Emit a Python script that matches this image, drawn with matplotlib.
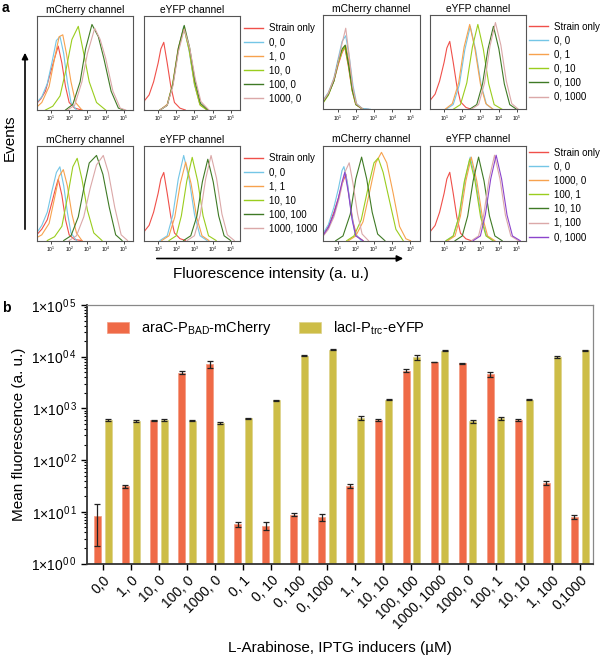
import numpy as np
import matplotlib
matplotlib.use("Agg")
import matplotlib.pyplot as plt
from matplotlib.lines import Line2D

plt.rcParams["font.family"] = ["Liberation Sans", "DejaVu Sans"]
plt.rcParams["mathtext.fontset"] = "custom"
plt.rcParams["mathtext.rm"] = "Liberation Sans"
plt.rcParams["mathtext.it"] = "Liberation Sans:italic"
plt.rcParams["mathtext.bf"] = "Liberation Sans:bold"

# ---- panel a: flow histograms, points are (log10 intensity, fraction of max) ----
C_STRAIN = "#F0504A"
C_00 = "#74C6E6"
C_OR = "#F7A24E"
C_LIME = "#9ACD1E"
C_DG = "#3F7A25"
C_PINK = "#DBA8A8"
C_PURP = "#8C44CC"

colors6 = [C_STRAIN, C_00, C_OR, C_LIME, C_DG, C_PINK]
colors7 = [C_STRAIN, C_00, C_OR, C_LIME, C_DG, C_PINK, C_PURP]

labels_tl = ["Strain only", "0, 0", "1, 0", "10, 0", "100, 0", "1000, 0"]
labels_tr = ["Strain only", "0, 0", "0, 1", "0, 10", "0, 100", "0, 1000"]
labels_bl = ["Strain only", "0, 0", "1, 1", "10, 10", "100, 100", "1000, 1000"]
labels_br = ["Strain only", "0, 0", "1000, 0", "100, 1", "10, 10", "1, 100", "0, 1000"]

strain_yfp = [(0.22, 0), (0.25, .1), (0.5, .16), (0.75, .3), (1.0, .5), (1.15, .65), (1.31, .72),
              (1.5, .5), (1.7, .25), (1.9, .08), (2.2, .02), (2.5, 0)]

tl_mch = [
    [(0.22, .07), (0.45, .12), (0.7, .2), (0.95, .38), (1.2, .55), (1.4, .68), (1.6, .5), (1.8, .25), (2.0, .08), (2.3, .02), (2.7, 0)],
    [(0.22, .08), (0.5, .14), (0.8, .28), (1.05, .5), (1.3, .74), (1.5, .78), (1.7, .6), (1.9, .3), (2.1, .08), (2.4, 0)],
    [(0.22, .03), (0.5, .08), (0.9, .25), (1.2, .55), (1.45, .78), (1.65, .8), (1.85, .6), (2.1, .3), (2.35, .08), (2.7, 0)],
    [(0.7, 0), (1.1, .04), (1.5, .15), (1.85, .45), (2.15, .75), (2.5, .89), (2.8, .6), (3.1, .3), (3.5, .08), (4.0, 0)],
    [(1.8, 0), (2.2, .06), (2.6, .3), (2.9, .65), (3.25, .91), (3.6, .78), (3.9, .55), (4.3, .2), (4.7, .02), (5.0, 0)],
    [(1.9, 0), (2.3, .05), (2.7, .3), (3.0, .6), (3.4, .87), (3.7, .75), (4.0, .55), (4.4, .2), (4.8, .02), (5.1, 0)],
]
tl_yfp = [
    strain_yfp,
    [(1.1, 0), (1.5, .05), (1.8, .27), (2.1, .64), (2.41, .89), (2.7, .64), (3.0, .27), (3.3, .06), (3.7, 0)],
    [(1.1, 0), (1.5, .06), (1.8, .28), (2.1, .65), (2.42, .88), (2.72, .64), (3.0, .28), (3.3, .06), (3.7, 0)],
    [(1.1, 0), (1.5, .05), (1.8, .27), (2.12, .64), (2.42, .88), (2.72, .63), (3.02, .27), (3.32, .05), (3.7, 0)],
    [(1.1, 0), (1.5, .05), (1.82, .28), (2.12, .66), (2.44, .9), (2.74, .66), (3.04, .3), (3.34, .07), (3.75, 0)],
    [(1.1, 0), (1.5, .05), (1.82, .26), (2.12, .62), (2.44, .86), (2.74, .66), (3.05, .33), (3.36, .09), (3.8, 0)],
]
tr_mch = [
    [(0.22, .08), (0.5, .16), (0.8, .3), (1.05, .48), (1.25, .6), (1.4, .66), (1.6, .45), (1.8, .2), (2.0, .05), (2.3, .01), (2.7, 0)],
    [(0.22, .1), (0.5, .18), (0.8, .33), (1.05, .55), (1.25, .72), (1.45, .78), (1.65, .55), (1.85, .25), (2.05, .06), (2.35, .01), (2.8, 0)],
    [(0.22, .09), (0.5, .17), (0.8, .32), (1.05, .5), (1.3, .64), (1.45, .68), (1.65, .48), (1.85, .2), (2.05, .05), (2.4, 0)],
    [(0.22, .07), (0.5, .15), (0.8, .3), (1.05, .5), (1.25, .62), (1.4, .66), (1.6, .47), (1.8, .2), (2.0, .05), (2.4, 0)],
    [(0.22, .08), (0.5, .16), (0.8, .3), (1.05, .52), (1.25, .64), (1.42, .68), (1.62, .46), (1.82, .2), (2.02, .05), (2.4, 0)],
    [(0.22, .09), (0.5, .17), (0.8, .32), (1.05, .52), (1.25, .7), (1.45, .86), (1.62, .6), (1.82, .25), (2.02, .06), (2.4, 0)],
]
tr_yfp = [
    strain_yfp,
    [(1.1, 0), (1.5, .05), (1.84, .26), (2.14, .63), (2.44, .88), (2.74, .63), (3.04, .26), (3.34, .05), (3.7, 0)],
    [(1.05, 0), (1.45, .06), (1.8, .28), (2.1, .66), (2.41, .9), (2.7, .64), (3.0, .27), (3.3, .06), (3.7, 0)],
    [(1.5, 0), (1.9, .05), (2.25, .28), (2.56, .66), (2.86, .9), (3.16, .64), (3.46, .27), (3.76, .05), (4.2, 0)],
    [(2.4, 0), (2.8, .05), (3.12, .27), (3.42, .64), (3.72, .88), (4.02, .64), (4.32, .27), (4.62, .05), (5.0, 0)],
    [(2.5, 0), (2.9, .05), (3.23, .28), (3.53, .67), (3.83, .92), (4.13, .68), (4.43, .3), (4.73, .06), (5.1, 0)],
]
bl_mch = [
    [(0.22, .06), (0.5, .12), (0.8, .22), (1.05, .4), (1.25, .55), (1.4, .65), (1.6, .48), (1.8, .22), (2.0, .06), (2.3, .01), (2.7, 0)],
    [(0.22, .08), (0.5, .16), (0.8, .3), (1.05, .52), (1.3, .72), (1.49, .78), (1.7, .58), (1.9, .3), (2.1, .08), (2.4, 0)],
    [(0.22, .03), (0.5, .06), (0.9, .18), (1.2, .45), (1.45, .68), (1.68, .75), (1.9, .58), (2.15, .28), (2.4, .08), (2.7, 0)],
    [(0.8, 0), (1.2, .04), (1.6, .15), (1.9, .45), (2.2, .78), (2.44, .87), (2.7, .65), (3.0, .32), (3.35, .08), (3.8, 0)],
    [(1.7, 0), (2.1, .05), (2.5, .25), (2.85, .6), (3.1, .82), (3.5, .9), (3.85, .7), (4.2, .35), (4.55, .06), (4.9, 0)],
    [(2.0, 0), (2.4, .05), (2.8, .25), (3.15, .55), (3.5, .8), (3.87, .9), (4.15, .72), (4.5, .35), (4.85, .06), (5.2, 0)],
]
bl_yfp = [
    strain_yfp,
    [(1.1, 0), (1.5, .05), (1.81, .27), (2.11, .65), (2.41, .9), (2.71, .65), (3.01, .27), (3.31, .05), (3.7, 0)],
    [(1.2, 0), (1.6, .05), (1.92, .25), (2.22, .6), (2.52, .83), (2.82, .6), (3.12, .25), (3.42, .05), (3.8, 0)],
    [(1.6, 0), (2.0, .05), (2.28, .26), (2.58, .63), (2.88, .88), (3.18, .63), (3.48, .26), (3.78, .05), (4.2, 0)],
    [(2.4, 0), (2.8, .05), (3.14, .26), (3.44, .62), (3.74, .86), (4.04, .62), (4.34, .26), (4.64, .05), (5.0, 0)],
    [(2.6, 0), (3.0, .05), (3.32, .27), (3.62, .65), (3.92, .9), (4.22, .66), (4.52, .28), (4.82, .06), (5.2, 0)],
]
br_mch = [
    [(0.22, .07), (0.5, .15), (0.8, .3), (1.05, .45), (1.25, .6), (1.46, .7), (1.65, .45), (1.85, .2), (2.05, .05), (2.4, 0)],
    [(0.22, .08), (0.5, .17), (0.8, .35), (1.05, .55), (1.25, .74), (1.35, .78), (1.55, .6), (1.75, .3), (1.95, .08), (2.3, 0)],
    [(1.6, 0), (2.0, .05), (2.4, .2), (2.8, .55), (3.1, .82), (3.41, .93), (3.7, .82), (4.05, .5), (4.4, .15), (4.75, .02), (5.0, 0)],
    [(1.5, 0), (1.9, .05), (2.3, .22), (2.7, .58), (3.0, .82), (3.23, .87), (3.5, .72), (3.85, .42), (4.2, .12), (4.6, 0)],
    [(0.9, 0), (1.3, .05), (1.7, .28), (2.0, .65), (2.32, .88), (2.6, .65), (2.9, .3), (3.2, .07), (3.6, 0)],
    [(0.22, .05), (0.5, .12), (0.8, .25), (1.1, .45), (1.4, .72), (1.64, .82), (1.85, .6), (2.1, .28), (2.35, .07), (2.7, 0)],
    [(0.22, .06), (0.5, .14), (0.8, .28), (1.05, .45), (1.25, .62), (1.4, .72), (1.6, .5), (1.8, .22), (2.0, .05), (2.4, 0)],
]
br_yfp = [
    strain_yfp,
    [(1.1, 0), (1.5, .05), (1.84, .26), (2.14, .63), (2.44, .88), (2.74, .63), (3.04, .26), (3.34, .05), (3.7, 0)],
    [(1.2, 0), (1.6, .05), (1.9, .26), (2.2, .63), (2.5, .88), (2.8, .63), (3.1, .26), (3.4, .05), (3.8, 0)],
    [(1.1, 0), (1.5, .05), (1.81, .25), (2.11, .62), (2.41, .86), (2.71, .62), (3.01, .25), (3.31, .05), (3.7, 0)],
    [(1.6, 0), (2.0, .05), (2.3, .26), (2.6, .63), (2.9, .88), (3.2, .63), (3.5, .26), (3.8, .05), (4.2, 0)],
    [(2.5, 0), (2.9, .05), (3.18, .27), (3.48, .65), (3.78, .9), (4.08, .65), (4.38, .27), (4.68, .05), (5.1, 0)],
    [(2.6, 0), (3.0, .05), (3.27, .27), (3.57, .65), (3.87, .9), (4.17, .65), (4.47, .27), (4.77, .05), (5.2, 0)],
]

# ---- panel b: mean fluorescence ----
conditions = ["0,0", "1, 0", "10, 0", "100, 0", "1000, 0", "0, 1", "0, 10", "0, 100", "0, 1000",
              "1, 1", "10, 10", "100, 100", "1000, 1000", "1000, 0", "100, 1", "10, 10", "1, 100", "0,1000"]
mcherry_mean = [8.2, 31.5, 590, 4900, 7200, 5.7, 5.4, 8.8, 7.9, 31.5, 590, 5350, 7900, 7400, 4600, 590, 36, 8.0]
mcherry_err = [6.0, 2.0, 15, 300, 1100, 0.7, 1.0, 0.6, 1.3, 3.0, 20, 400, 150, 200, 500, 20, 3, 0.8]
eyfp_mean = [590, 575, 590, 580, 525, 645, 1450, 10400, 13600, 655, 1480, 9700, 13000, 565, 645, 1480, 9800, 13400]
eyfp_err = [20, 30, 20, 20, 30, 15, 30, 200, 400, 50, 30, 1000, 300, 40, 50, 30, 300, 300]

W, H = 600, 663
fig = plt.figure(figsize=(W / 100, H / 100), dpi=100)


def px_axes(x0, y0, x1, y1):
    return fig.add_axes([x0 / W, 1 - y1 / H, (x1 - x0) / W, (y1 - y0) / H])


def draw_hist(ax, curves, colors, title):
    for pts, c in zip(curves, colors):
        xs = np.power(10.0, [p[0] for p in pts])
        ys = [p[1] for p in pts]
        ax.plot(xs, ys, color=c, lw=0.8)
    ax.set_xscale("log")
    ax.set_xlim(10 ** 0.22, 10 ** 5.5)
    ax.set_ylim(0, 1)
    ax.set_yticks([])
    ax.set_xticks([1e1, 1e2, 1e3, 1e4, 1e5])
    ax.set_xticklabels(["$10^{%d}$" % k for k in range(1, 6)], fontsize=3.5)
    ax.tick_params(axis="x", which="major", length=2, width=0.5, pad=1)
    ax.tick_params(axis="x", which="minor", length=1, width=0.4)
    for s in ax.spines.values():
        s.set_linewidth(0.8)
        s.set_color("#555555")
    ax.set_title(title, fontsize=7.4, pad=2.5)


def hist_legend(labels, colors, x_px, y_px):
    handles = [Line2D([0], [0], color=c, lw=1.0) for c in colors]
    fig.legend(handles, labels, loc="upper left", bbox_to_anchor=(x_px / W, 1 - y_px / H),
               frameon=False, fontsize=7, handlelength=2.0, handletextpad=0.6,
               labelspacing=0.42, borderpad=0, borderaxespad=0)


panels = [
    (36.7, 144, 16, 110, tl_mch, tl_yfp, colors6, labels_tl, 244, 23),
    (323.3, 430, 15, 109.3, tr_mch, tr_yfp, colors6, labels_tr, 529, 21.5),
    (36.7, 144, 146, 240.5, bl_mch, bl_yfp, colors6, labels_bl, 244, 153),
    (323.3, 430, 145.7, 240.7, br_mch, br_yfp, colors7, labels_br, 529, 147.5),
]
for xm, xy, y0, y1, mch, yfp, cols, labs, lx, ly in panels:
    a1 = px_axes(xm, y0, xm + 96.3, y1)
    draw_hist(a1, mch, cols, "mCherry channel")
    a2 = px_axes(xy, y0, xy + 95.7, y1)
    draw_hist(a2, yfp, cols, "eYFP channel")
    hist_legend(labs, cols, lx, ly)

# axis arrows for panel a
fig.add_artist(matplotlib.patches.FancyArrowPatch((25 / W, 1 - 232 / H), (25 / W, 1 - 50 / H),
                                                  transform=fig.transFigure, arrowstyle="-|>",
                                                  mutation_scale=9, lw=1.2, color="black"))
fig.text(10 / W, 1 - 138 / H, "Events", rotation=90, fontsize=11, ha="center", va="center")
fig.add_artist(matplotlib.patches.FancyArrowPatch((154 / W, 1 - 258.5 / H), (406 / W, 1 - 258.5 / H),
                                                  transform=fig.transFigure, arrowstyle="-|>",
                                                  mutation_scale=9, lw=1.2, color="black"))
fig.text(271 / W, 1 - 274 / H, "Fluorescence intensity (a. u.)", fontsize=11, ha="center", va="center")

fig.text(2 / W, 1 - 8 / H, "a", fontsize=10, fontweight="bold", ha="left", va="center")
fig.text(2 / W, 1 - 308 / H, "b", fontsize=10, fontweight="bold", ha="left", va="center")

# ---- panel b ----
axb = px_axes(87, 305, 593, 563.5)
x = np.arange(len(conditions))
RED = "#EF6A47"
YEL = "#CDBD47"
axb.bar(x - 0.19, mcherry_mean, width=0.25, color=RED, edgecolor="#F49A80", lw=0.5,
        label="araC-P$_{\\mathregular{BAD}}$-mCherry")
axb.bar(x + 0.19, eyfp_mean, width=0.25, color=YEL, edgecolor="#DDD28A", lw=0.5,
        label="lacI-P$_{\\mathregular{trc}}$-eYFP")
axb.errorbar(x - 0.19, mcherry_mean, yerr=mcherry_err, fmt="none", ecolor="#222222",
             elinewidth=0.9, capsize=2, capthick=0.9)
axb.errorbar(x + 0.19, eyfp_mean, yerr=eyfp_err, fmt="none", ecolor="#222222",
             elinewidth=0.9, capsize=2, capthick=0.9)
axb.set_yscale("log")
axb.set_ylim(1, 1e5)
axb.set_xlim(-0.56, len(conditions) - 0.53)
axb.set_yticks([1, 10, 100, 1e3, 1e4, 1e5])
axb.set_yticklabels(["1×10$^{\\mathregular{0\\,%d}}$" % k for k in range(6)], fontsize=10)
axb.set_xticks(x)
axb.set_xticklabels(conditions, rotation=45, ha="right", rotation_mode="anchor", fontsize=10)
axb.tick_params(axis="x", length=4, width=1, pad=3)
axb.tick_params(axis="y", which="major", length=4, width=1)
axb.tick_params(axis="y", which="minor", length=2, width=0.8)
for side in ["left", "bottom"]:
    axb.spines[side].set_linewidth(1.3)
    axb.spines[side].set_color("#333333")
for side in ["top", "right"]:
    axb.spines[side].set_linewidth(0.9)
    axb.spines[side].set_color("#888888")
axb.set_ylabel("Mean fluorescence (a. u.)", fontsize=11, labelpad=4)
axb.set_xlabel("L-Arabinose, IPTG inducers (µM)", fontsize=11, labelpad=6)
axb.legend(loc="upper left", bbox_to_anchor=(0.04, 0.945), ncol=2, frameon=False, fontsize=10.5,
           handlelength=1.5, handleheight=0.8, handletextpad=0.8, columnspacing=1.9,
           borderpad=0, borderaxespad=0)

fig.savefig("out.png", dpi=100)
